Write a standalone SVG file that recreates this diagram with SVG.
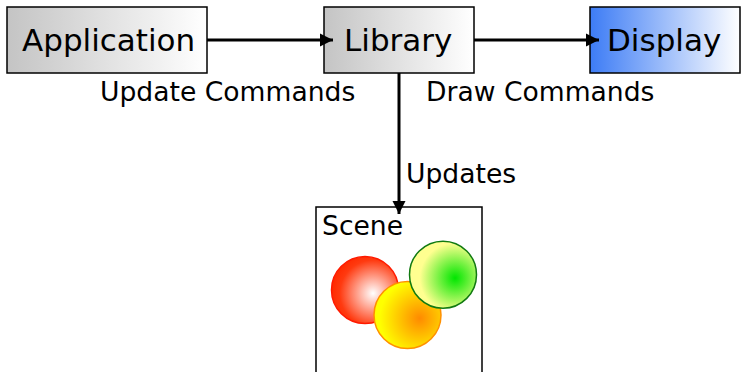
<svg xmlns="http://www.w3.org/2000/svg" width="742" height="372" viewBox="0 0 742 372">
<defs>
<linearGradient id="gray" x1="0" y1="0" x2="1" y2="0"><stop offset="0" stop-color="#c4c4c4"/><stop offset="1" stop-color="#ffffff"/></linearGradient>
<linearGradient id="blue" x1="0" y1="0" x2="1" y2="0"><stop offset="0" stop-color="#3d7cf5"/><stop offset="1" stop-color="#ffffff"/></linearGradient>
<radialGradient id="red" cx="0.62" cy="0.55" r="0.62" fx="0.62" fy="0.55"><stop offset="0" stop-color="#ffffff"/><stop offset="0.8" stop-color="#ff3a10"/><stop offset="1" stop-color="#ff2a00"/></radialGradient>
<radialGradient id="yel" cx="0.68" cy="0.55" r="0.7" fx="0.68" fy="0.55"><stop offset="0" stop-color="#ff8a00"/><stop offset="0.85" stop-color="#ffff00"/><stop offset="1" stop-color="#ffff00"/></radialGradient>
<radialGradient id="grn" cx="0.68" cy="0.55" r="0.7" fx="0.68" fy="0.55"><stop offset="0" stop-color="#00e600"/><stop offset="0.75" stop-color="#ffff90"/><stop offset="1" stop-color="#ffff90"/></radialGradient>
<marker id="ah" viewBox="0 0 10 10" refX="10" refY="5" markerWidth="4.4" markerHeight="4.4" orient="auto" markerUnits="strokeWidth"><path d="M0,0 L10,5 L0,10 z" fill="#000"/></marker>
</defs>
<style>
.box{stroke:#000;stroke-width:1.5}
.lbl{font-family:"DejaVu Sans",sans-serif;font-size:31px;fill:#000}
.sm{font-family:"DejaVu Sans",sans-serif;font-size:26.6px;fill:#000}
.conn{stroke:#000;stroke-width:3;fill:none}
</style>
<g id="application"><rect class="box" x="7" y="7" width="200" height="66" fill="url(#gray)"/><text class="lbl" x="22" y="51">Application</text></g>
<g id="library"><rect class="box" x="324" y="7" width="150" height="66" fill="url(#gray)"/><text class="lbl" x="344" y="51">Library</text></g>
<g id="display"><rect class="box" x="590" y="7" width="150" height="66" fill="url(#blue)"/><text class="lbl" x="607" y="51">Display</text></g>
<g id="scene"><rect class="box" x="316" y="207" width="166" height="180" fill="#fff"/><text class="sm" x="322" y="235">Scene</text>
<circle cx="365" cy="290" r="33.5" fill="url(#red)" stroke="#ff1a00" stroke-width="1.5"/>
<circle cx="407.5" cy="315" r="33.5" fill="url(#yel)" stroke="#ff9000" stroke-width="1.5"/>
<circle cx="443" cy="274.7" r="33.5" fill="url(#grn)" stroke="#117a11" stroke-width="1.5"/>
</g>
<g id="connectors">
<line class="conn" x1="207" y1="40" x2="333" y2="40" marker-end="url(#ah)"/>
<line class="conn" x1="474" y1="40" x2="599" y2="40" marker-end="url(#ah)"/>
<line class="conn" x1="399" y1="73" x2="399" y2="214" marker-end="url(#ah)"/>
<text class="sm" x="100" y="101">Update Commands</text>
<text class="sm" x="426" y="101">Draw Commands</text>
<text class="sm" x="406" y="183">Updates</text>
</g>
</svg>
